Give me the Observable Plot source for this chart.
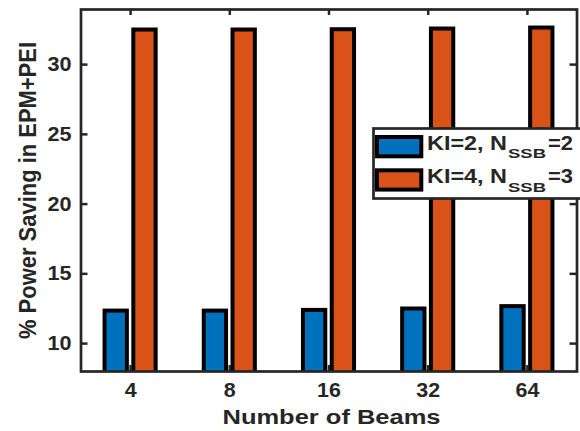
<!DOCTYPE html>
<html><head><meta charset="utf-8">
<script src="https://cdn.jsdelivr.net/npm/d3@7"></script>
<script src="https://cdn.jsdelivr.net/npm/@observablehq/plot@0.6"></script>
<style>
html,body{margin:0;padding:0;background:#fff;overflow:hidden;width:580px;height:431px}
#wrap{position:relative;width:580px;height:431px;overflow:hidden}
#legend{position:absolute;left:0;top:0;pointer-events:none}
</style></head><body><div id="wrap"></div>
<script>
const beams = [4, 8, 16, 32, 64];
const seriesKI = [2, 4];
const seriesNSSB = [2, 3];
const ki2 = [12.33, 12.33, 12.38, 12.48, 12.65];
const ki4 = [32.48, 32.48, 32.50, 32.55, 32.62];
const yTicks = [10, 15, 20, 25, 30];
const yDomain = [8, 33.95];
const xLabel = "Number of Beams";
const yLabel = "% Power Saving in EPM+PEI";
const colors = ["#0072BD", "#D95319"];

const seriesValues = [ki2, ki4];
const rows = [];
beams.forEach((b, i) => {
  seriesValues.forEach((vals, s) => rows.push({i, beam: b, series: s, value: vals[i]}));
});
const off = [-0.145, 0.145], half = 0.1125;
const ink = "#262626";
const fontFamily = "'Liberation Sans', Arial, Helvetica, sans-serif";

const W = 580, H = 431;
const mL = 80.5, mR = 3.5, mT = 9, mB = 60;
const innerW = W - mL - mR, innerH = H - mT - mB;
const xIdx = beams.map((b, i) => i + 1);

const plot = Plot.plot({
  width: W, height: H,
  marginLeft: mL, marginRight: mR, marginTop: mT, marginBottom: mB,
  style: {fontFamily, fontSize: "20px", fontWeight: "bold", color: ink, background: "#fff"},
  x: {type: "linear", domain: [0.5, beams.length + 0.5]},
  y: {domain: yDomain},
  marks: [
    Plot.rect(rows, {
      x1: d => d.i + 1 + off[d.series] - half,
      x2: d => d.i + 1 + off[d.series] + half,
      y1: 0, y2: "value",
      fill: d => colors[d.series], stroke: "#000", strokeWidth: 4, clip: true
    }),
    Plot.tickY(yTicks, {y: d => d, insetRight: innerW - 7, stroke: ink, strokeWidth: 2.5}),
    Plot.tickY(yTicks, {y: d => d, insetLeft: innerW - 7, stroke: ink, strokeWidth: 2.5}),
    Plot.tickX(xIdx, {x: d => d, insetTop: innerH - 6, stroke: ink, strokeWidth: 2.5}),
    Plot.tickX(xIdx, {x: d => d, insetBottom: innerH - 6, stroke: ink, strokeWidth: 2.5}),
    Plot.axisY({ticks: yTicks, tickSize: 0, tickPadding: 9.5, label: null}),
    Plot.axisX({ticks: xIdx, tickFormat: d => String(beams[d - 1]), tickSize: 0, tickPadding: 11, label: null}),
    Plot.frame({stroke: ink, strokeWidth: 2.7}),
    Plot.text([xLabel], {text: d => d, frameAnchor: "bottom", lineAnchor: "bottom", dy: 52, dx: 2.5, fontSize: 21, fontWeight: "bold"}),
    Plot.text([yLabel], {text: d => d, frameAnchor: "left", lineAnchor: "bottom", rotate: -90, dx: -45.5, fontSize: 24.5, fontWeight: "bold"})
  ]
});
const wrap = document.getElementById("wrap");
wrap.append(plot);

// Legend overlay
const leg = d3.select(wrap).append("svg").attr("id", "legend").attr("width", W).attr("height", H)
  .style("font-family", fontFamily).style("font-weight", "bold").attr("fill", ink);
leg.append("rect").attr("x", 373.5).attr("y", 128.5).attr("width", 230).attr("height", 70)
  .attr("fill", "#fff").attr("stroke", ink).attr("stroke-width", 2.7);
seriesKI.forEach((ki, s) => {
  const y0 = 137 + s * 33.3;
  leg.append("rect").attr("x", 377).attr("y", y0).attr("width", 44.3).attr("height", 19.3)
    .attr("fill", colors[s]).attr("stroke", "#000").attr("stroke-width", 4);
  const base = 149.5 + s * 33.3;
  leg.append("text").attr("x", 427).attr("y", base).attr("font-size", 20)
    .attr("textLength", 80).attr("lengthAdjust", "spacingAndGlyphs").text(`KI=${ki}, N`);
  leg.append("text").attr("x", 508).attr("y", base + 8.7).attr("font-size", 13.5)
    .attr("textLength", 38).attr("lengthAdjust", "spacingAndGlyphs").text("SSB");
  leg.append("text").attr("x", 548).attr("y", base).attr("font-size", 20)
    .attr("textLength", 25).attr("lengthAdjust", "spacingAndGlyphs").text(`=${seriesNSSB[s]}`);
});

// Horizontal text widening to match reference rendering
function stretch(sel, f) {
  sel.each(function() {
    const L = this.getComputedTextLength();
    this.setAttribute("textLength", L * f);
    this.setAttribute("lengthAdjust", "spacingAndGlyphs");
  });
}
const svg = d3.select(plot);
stretch(svg.selectAll('g[aria-label="y-axis tick label"] text'), 1.08);
stretch(svg.selectAll('g[aria-label="x-axis tick label"] text'), 1.07);
svg.selectAll('g[aria-label="text"] text').each(function() {
  const t = this.textContent;
  this.setAttribute("lengthAdjust", "spacingAndGlyphs");
  if (t === xLabel) {
    this.setAttribute("textLength", 218);
  } else {
    const len = 297;
    this.setAttribute("text-anchor", "start");
    this.setAttribute("x", -len / 2);
    this.setAttribute("textLength", len);
  }
});
</script></body></html>
